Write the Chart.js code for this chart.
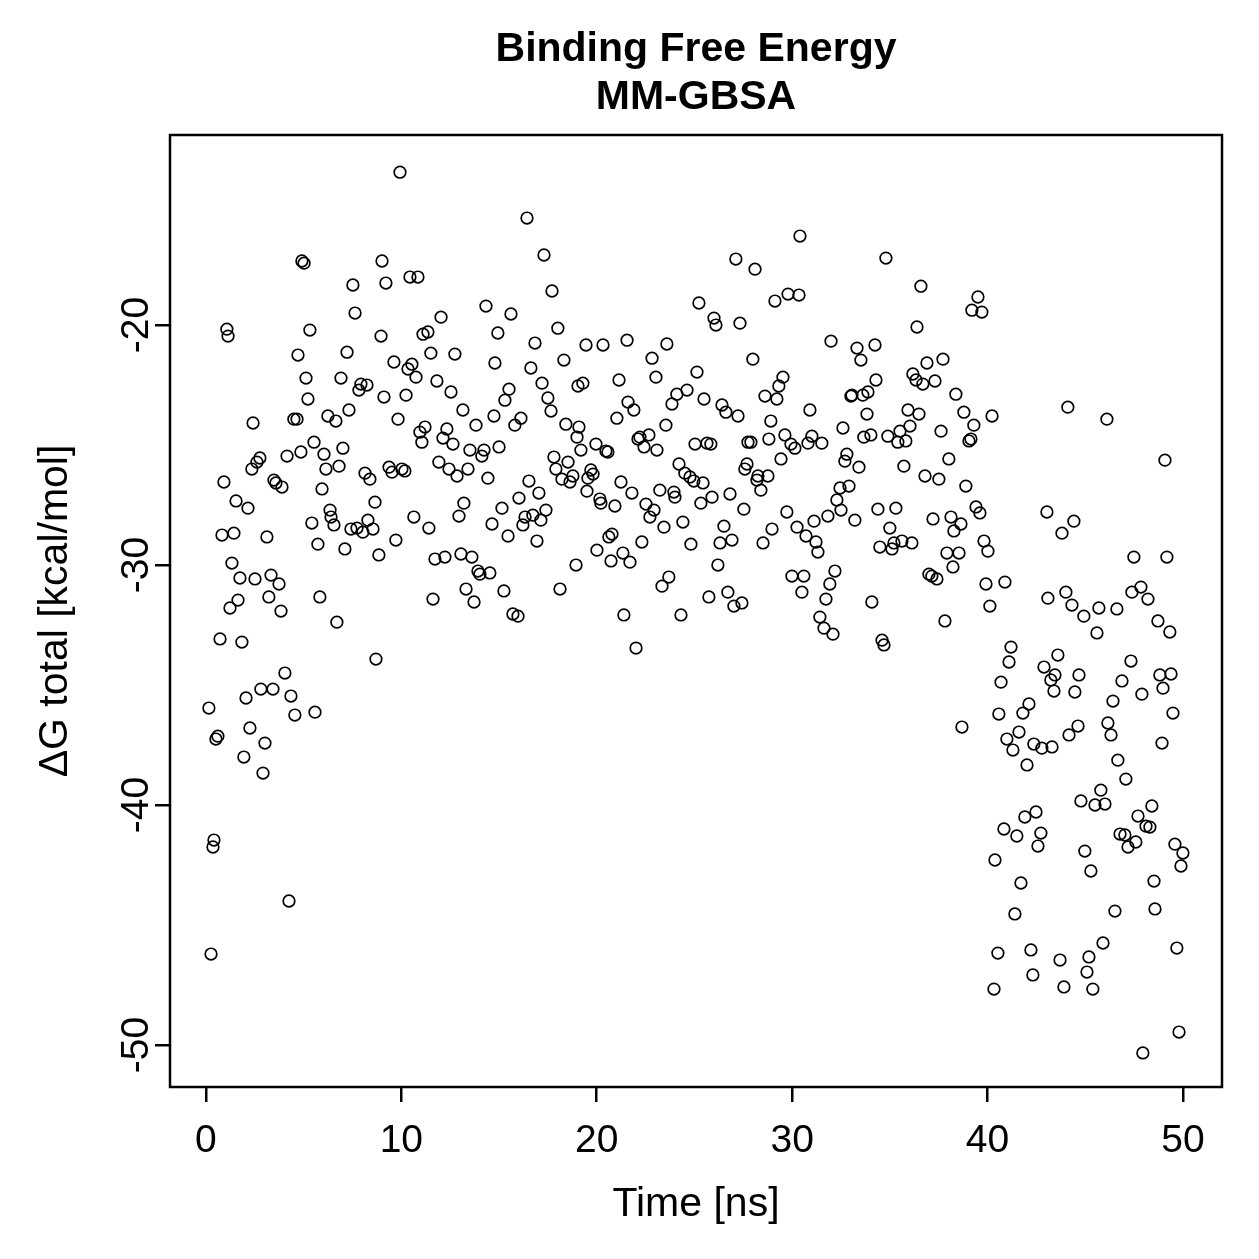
<!DOCTYPE html>
<html>
<head>
<meta charset="utf-8">
<title>Binding Free Energy MM-GBSA</title>
<script src="https://cdn.jsdelivr.net/npm/chart.js@4.4.1/dist/chart.umd.min.js"></script>
<style>
  html, body { margin: 0; padding: 0; background: #fff; }
  canvas { display: block; }
</style>
</head>
<body>
<canvas id="chart" width="1259" height="1259"></canvas>
<script>
// titles and axis labels
const titleLines = ['Binding Free Energy', 'MM-GBSA'];
const xTitle = 'Time [ns]';
const yTitle = '\u0394G total [kcal/mol]';

// ticks
const xTicks = [0, 10, 20, 30, 40, 50];
const xTickLabels = ['0', '10', '20', '30', '40', '50'];
const yTicks = [-50, -40, -30, -20];
const yTickLabels = ['-50', '-40', '-30', '-20'];

// axis ranges (R style, 4% padding)
const xRange = [-1.84, 52.0];
const yRange = [-51.75, -12.08];

// time of each frame (ns)
const timeNs = [
  // upper band
  4.91,5.02,9.01,7.52,9.21,7.63,1.07,1.13,5.32,8.96,
  4.71,7.22,5.12,6.91,7.93,8.24,7.83,9.11,5.22,9.93,
  16.43,17.30,10.44,10.85,17.71,14.33,15.61,12.03,14.94,18.01,
  11.11,11.36,16.84,11.51,12.74,9.62,14.79,10.54,10.34,18.32,
  16.63,10.75,11.82,17.20,15.51,12.54,19.04,19.29,10.24,17.50,
  15.30,27.12,28.10,25.23,26.00,26.10,27.33,19.45,20.32,21.55,
  23.59,22.83,27.99,25.13,21.14,23.03,24.62,24.10,25.49,28.61,
  21.60,30.40,34.80,36.59,29.12,29.79,30.35,39.51,39.20,39.71,
  36.39,31.99,33.32,33.52,34.24,36.90,37.72,29.53,29.32,29.22,
  34.29,36.18,36.34,36.69,37.31,33.06,33.01,33.62,33.88,38.38,
  // around -24
  2.41,4.50,4.66,6.24,6.65,7.32,9.83,13.15,14.74,16.12,
  17.66,21.03,21.90,23.85,26.41,26.61,27.23,28.91,30.91,33.83,
  35.93,36.49,38.79,40.23,13.82,23.54,
  // 0-10 ns, middle band
  5.53,4.86,4.15,6.04,7.01,2.76,2.61,2.35,6.14,6.81,
  8.14,8.39,9.37,9.52,0.92,3.48,3.58,3.89,5.94,8.65,
  1.54,2.15,6.35,6.40,6.55,5.42,8.29,7.42,7.73,8.03,
  8.55,0.82,1.43,3.12,9.72,5.73,7.11,8.85,1.33,1.74,
  2.51,3.33,3.74,1.64,1.23,3.22,3.84,5.83,6.70,0.72,
  1.84,8.70,
  // 10-19 ns, middle band
  11.21,10.95,11.05,12.33,12.13,12.64,15.00,13.51,14.23,14.12,
  15.81,18.42,11.92,12.44,12.85,13.41,14.43,10.03,10.18,17.81,
  18.53,17.91,18.22,18.78,18.63,16.53,17.04,16.02,13.20,12.95,
  15.15,17.40,16.73,16.33,17.14,16.22,10.64,11.41,14.64,15.46,
  16.94,11.72,12.23,13.05,13.61,13.92,14.02,14.53,13.31,15.25,
  18.12,11.62,13.72,15.71,15.97,
  // 19-29 ns, middle band
  19.09,18.99,19.19,19.96,20.47,20.57,22.21,22.11,22.67,22.42,
  23.08,25.03,25.64,25.84,27.89,27.74,28.81,24.21,24.51,24.77,
  24.97,25.44,27.69,27.58,28.25,28.76,28.40,28.20,19.70,19.81,
  19.55,21.24,21.80,23.23,23.95,24.00,19.50,20.16,20.21,20.93,
  22.52,22.93,22.72,25.90,25.33,26.82,27.53,24.41,23.44,26.51,
  26.92,26.31,28.97,20.78,20.62,22.31,24.82,28.51,20.01,21.34,
  20.73,21.70,18.94,26.20,23.69,23.34,26.71,27.02,27.43,25.74,
  21.39,24.31,22.01,
  // 29-40 ns, middle band
  29.63,29.94,30.14,31.01,30.81,31.52,32.60,33.67,34.03,34.90,
  35.52,36.03,35.41,35.82,37.62,39.30,39.05,39.15,29.43,32.80,
  32.70,33.42,35.72,38.02,36.80,37.51,38.89,32.45,32.91,32.29,
  32.50,29.73,31.83,31.12,33.21,34.39,35.31,37.21,38.13,38.64,
  38.28,39.41,39.61,30.25,30.71,31.22,31.32,35.00,34.49,35.11,
  35.21,35.62,36.13,37.92,38.54,38.23,39.82,40.02,29.99,30.60,
  30.50,32.19,31.93,31.73,34.08,37.00,37.15,37.41,39.92,40.12,
  31.42,31.63,32.09,37.82,34.60,34.70,
  // 40-50 ns, upper part
  44.11,46.11,49.08,43.04,44.42,43.81,47.49,49.18,40.89,43.09,
  44.01,44.32,44.93,45.70,46.62,45.60,47.39,47.85,48.21,48.72,
  49.33,41.20,41.10,40.69,43.60,42.89,43.45,43.24,43.40,44.68,
  44.47,47.34,46.88,46.42,47.90,48.82,49.39,48.98,49.49,42.12,
  41.81,40.58,
  // 40-50 ns, lower part
  38.69,41.61,40.99,41.30,42.37,42.78,43.30,42.02,44.17,44.63,
  46.16,46.32,48.93,46.67,47.08,45.80,44.78,45.50,46.01,42.48,
  41.91,40.84,41.50,42.73,42.58,40.38,44.98,45.29,48.41,47.70,
  48.11,48.31,46.78,47.03,47.59,47.19,49.59,50.00,49.90,41.71,
  48.52,41.40,46.52,48.57,40.53,42.22,42.32,40.33,43.71,45.19,
  45.09,45.91,43.91,45.39,49.69,49.80,47.95,
  // first ns, low values
  4.04,2.81,3.43,2.05,4.35,0.15,4.55,5.58,2.25,0.61,
  0.51,3.02,1.94,2.92,0.41,0.36,4.25,0.26
];

// ΔG total (kcal/mol), same order as timeNs
const dGTotal = [
  // upper band
  -17.33,-17.42,-17.33,-18.33,-18.25,-19.5,-20.17,-20.46,-20.21,-20.46,
  -21.25,-21.13,-22.21,-22.21,-22.46,-22.5,-22.71,-23.0,-23.08,-13.63,
  -15.54,-17.08,-18.0,-18.0,-18.58,-19.21,-19.54,-19.67,-20.33,-20.13,
  -20.38,-20.29,-20.75,-21.17,-21.21,-21.54,-21.58,-21.63,-21.83,-21.46,
  -21.79,-22.17,-22.33,-22.42,-22.67,-22.79,-22.54,-22.42,-22.92,-23.04,
  -23.13,-17.25,-17.67,-19.08,-19.71,-20.0,-19.92,-20.83,-20.83,-20.63,
  -20.79,-21.38,-21.42,-21.96,-22.29,-22.17,-22.71,-22.88,-23.08,-22.96,
  -23.21,-16.29,-17.21,-18.38,-19.0,-18.71,-18.75,-18.83,-19.38,-19.46,
  -20.08,-20.67,-20.96,-21.46,-20.83,-21.58,-21.42,-22.17,-22.54,-23.08,
  -22.29,-22.04,-22.29,-22.46,-22.33,-22.92,-22.96,-22.92,-22.79,-22.88,
  // around -24
  -24.08,-23.92,-23.92,-23.79,-24.0,-23.54,-23.92,-23.54,-23.79,-23.88,
  -23.58,-23.88,-23.54,-23.29,-23.33,-23.63,-23.79,-24.0,-23.54,-23.71,
  -23.54,-23.71,-23.63,-23.79,-24.17,-24.17,
  // 0-10 ns, middle band
  -24.88,-25.29,-25.46,-25.38,-25.13,-25.54,-25.71,-26.0,-26.0,-25.88,
  -26.17,-26.42,-25.92,-26.13,-26.54,-26.46,-26.58,-26.75,-26.83,-27.38,
  -27.33,-27.63,-27.71,-28.0,-28.33,-28.25,-28.13,-28.5,-28.46,-28.63,
  -28.5,-28.75,-28.67,-28.83,-28.96,-29.13,-29.33,-29.58,-29.92,-30.54,
  -30.58,-30.42,-30.79,-31.46,-31.79,-31.33,-31.92,-31.33,-32.38,-33.08,
  -33.21,-33.92,
  // 10-19 ns, middle band
  -24.25,-24.46,-24.88,-24.33,-24.71,-24.96,-25.08,-25.21,-25.21,-25.46,
  -24.17,-24.13,-25.71,-26.0,-26.29,-26.0,-26.38,-26.0,-26.08,-25.5,
  -25.71,-26.0,-26.42,-26.29,-26.54,-26.5,-27.0,-27.21,-27.42,-27.96,
  -27.63,-27.71,-27.92,-28.0,-28.13,-28.33,-28.0,-28.46,-28.29,-28.79,
  -29.0,-29.75,-29.67,-29.54,-29.67,-30.25,-30.38,-30.33,-31.0,-31.08,
  -31.0,-31.42,-31.54,-32.04,-32.13,
  // 19-29 ns, middle band
  -24.25,-24.67,-25.21,-24.96,-25.25,-25.29,-24.67,-24.75,-24.58,-25.08,
  -25.21,-24.96,-24.92,-24.96,-24.88,-24.88,-24.75,-25.79,-26.17,-26.33,
  -26.5,-26.58,-25.79,-26.0,-26.29,-26.29,-26.88,-26.46,-26.04,-26.21,
  -26.38,-26.54,-27.0,-26.88,-26.96,-27.17,-26.92,-27.25,-27.42,-27.54,
  -27.46,-27.71,-28.0,-27.17,-27.42,-27.04,-27.67,-28.21,-28.42,-28.38,
  -28.96,-29.08,-28.5,-28.71,-28.83,-29.04,-29.13,-29.08,-29.38,-29.5,
  -29.83,-29.88,-30.0,-30.0,-30.5,-30.88,-31.13,-31.71,-31.58,-31.33,
  -32.08,-32.08,-33.46,
  // 29-40 ns, middle band
  -24.58,-24.96,-25.13,-24.63,-24.92,-24.92,-24.29,-24.67,-24.58,-24.63,
  -24.42,-24.21,-24.88,-24.83,-24.42,-24.17,-24.83,-24.75,-25.58,-25.38,
  -25.67,-25.92,-25.88,-25.58,-26.29,-26.42,-26.71,-26.79,-26.71,-27.29,
  -27.71,-27.79,-27.96,-28.17,-28.13,-27.67,-27.63,-28.08,-28.0,-28.29,
  -28.58,-27.58,-27.83,-28.42,-28.79,-29.04,-29.46,-28.46,-29.25,-29.33,
  -29.08,-29.0,-29.08,-29.5,-29.5,-30.08,-29.0,-29.42,-30.46,-30.46,
  -31.13,-30.25,-30.79,-31.42,-31.54,-30.38,-30.46,-30.58,-30.79,-31.71,
  -32.17,-32.63,-32.88,-32.33,-33.13,-33.33,
  // 40-50 ns, upper part
  -23.42,-23.92,-25.63,-27.79,-28.17,-28.67,-29.67,-29.67,-30.71,-31.38,
  -31.13,-31.67,-32.13,-31.79,-31.83,-32.83,-31.13,-30.92,-31.42,-32.33,
  -32.79,-33.42,-34.04,-34.88,-33.75,-34.25,-34.58,-34.79,-35.25,-34.58,
  -35.29,-34.0,-34.83,-35.67,-35.38,-34.58,-34.54,-35.13,-36.17,-35.79,
  -36.17,-36.21,
  // 40-50 ns, lower part
  -36.75,-36.96,-37.25,-37.71,-37.46,-37.63,-37.58,-38.33,-37.08,-36.71,
  -36.58,-37.08,-37.42,-38.13,-38.92,-39.38,-39.83,-40.0,-39.96,-40.29,
  -40.5,-41.0,-41.29,-41.17,-41.71,-42.29,-41.92,-42.75,-40.04,-40.46,
  -40.88,-40.92,-41.21,-41.25,-41.54,-41.75,-41.63,-42.0,-42.54,-43.25,
  -43.17,-44.54,-44.42,-44.33,-46.17,-46.04,-47.08,-47.67,-46.46,-46.33,
  -46.96,-45.75,-47.58,-47.67,-45.96,-49.46,-50.33,
  // first ns, low values
  -34.5,-35.17,-35.17,-35.54,-35.46,-35.96,-36.25,-36.13,-36.79,-37.13,
  -37.25,-37.42,-38.0,-38.67,-41.46,-41.75,-44.0,-46.21
];

const FONT = '"Liberation Sans", Arial, Helvetica, sans-serif';

// box, titles and tick labels drawn R-style around the plot area
const rFrame = {
  id: 'rFrame',
  afterDraw(chart) {
    const { ctx, chartArea: a, scales: { x, y } } = chart;
    const cx = (a.left + a.right) / 2;
    ctx.save();
    ctx.strokeStyle = '#000';
    ctx.lineWidth = 2.5;
    ctx.strokeRect(a.left, a.top, a.right - a.left, a.bottom - a.top);

    ctx.fillStyle = '#000';
    ctx.textAlign = 'center';
    ctx.textBaseline = 'alphabetic';

    ctx.font = 'bold 41px ' + FONT;
    ctx.fillText(titleLines[0], cx, 61);
    ctx.fillText(titleLines[1], cx, 109);

    ctx.font = '39px ' + FONT;
    xTicks.forEach((v, i) => ctx.fillText(xTickLabels[i], x.getPixelForValue(v), 1152));
    yTicks.forEach((v, i) => {
      ctx.save();
      ctx.translate(148, y.getPixelForValue(v));
      ctx.rotate(-Math.PI / 2);
      ctx.fillText(yTickLabels[i], 0, 0);
      ctx.restore();
    });

    ctx.font = '41px ' + FONT;
    ctx.fillText(xTitle, cx, 1216);
    ctx.save();
    ctx.translate(67, (a.top + a.bottom) / 2);
    ctx.rotate(-Math.PI / 2);
    ctx.fillText(yTitle, 0, 0);
    ctx.restore();

    ctx.restore();
  }
};

const tickGrid = { drawOnChartArea: false, drawTicks: true, tickLength: 15, color: '#000', lineWidth: 2.5 };

new Chart(document.getElementById('chart'), {
  type: 'scatter',
  data: {
    datasets: [{
      data: timeNs.map((t, i) => ({ x: t, y: dGTotal[i] })),
      pointStyle: 'circle',
      pointRadius: 5.8,
      pointBorderWidth: 1.7,
      pointBorderColor: '#000',
      pointBackgroundColor: 'rgba(0,0,0,0)'
    }]
  },
  options: {
    responsive: false,
    animation: false,
    devicePixelRatio: 1,
    layout: { padding: { top: 135, right: 37, left: 0, bottom: 0 } },
    plugins: {
      legend: { display: false },
      tooltip: { enabled: false },
      title: { display: false }
    },
    scales: {
      x: {
        type: 'linear',
        position: 'bottom',
        min: xRange[0],
        max: xRange[1],
        afterBuildTicks: s => { s.ticks = xTicks.map(v => ({ value: v })); },
        afterFit: s => { s.height = 172; },
        ticks: { display: false },
        grid: tickGrid,
        border: { display: false }
      },
      y: {
        type: 'linear',
        position: 'left',
        min: yRange[0],
        max: yRange[1],
        afterBuildTicks: s => { s.ticks = yTicks.map(v => ({ value: v })); },
        afterFit: s => { s.width = 170; },
        ticks: { display: false },
        grid: tickGrid,
        border: { display: false }
      }
    }
  },
  plugins: [rFrame]
});
</script>
</body>
</html>
